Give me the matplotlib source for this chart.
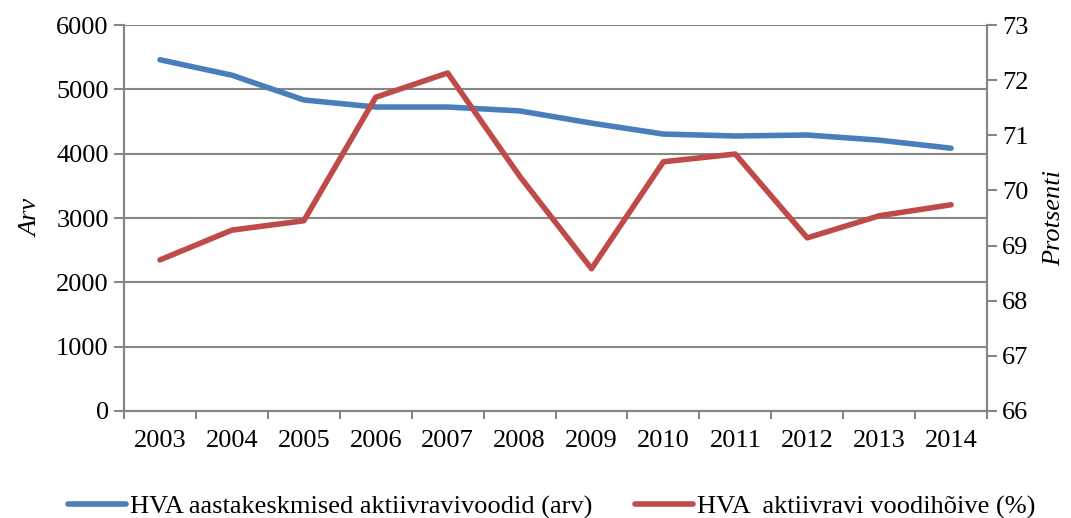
import numpy as np
import matplotlib.pyplot as plt

plt.rcParams['font.family'] = ['Liberation Serif', 'DejaVu Serif']

years = ['2003', '2004', '2005', '2006', '2007', '2008',
         '2009', '2010', '2011', '2012', '2013', '2014']
beds = [5460, 5220, 4835, 4725, 4725, 4665, 4475, 4305, 4275, 4290, 4210, 4085]
occupancy = [68.74, 69.28, 69.45, 71.69, 72.13, 70.26,
             68.58, 70.52, 70.66, 69.14, 69.54, 69.74]

blue = '#4a7ebb'
red = '#be4b48'
grey = '#868686'

fig = plt.figure(figsize=(10.71, 5.18), dpi=100)
ax = fig.add_axes([0.1158, 0.2066, 0.8058, 0.7451])
ax2 = ax.twinx()

x = np.arange(len(years))
l1, = ax.plot(x, beds, color=blue, lw=4, solid_capstyle='round',
              label='HVA aastakeskmised aktiivravivoodid (arv)')
l2, = ax2.plot(x, occupancy, color=red, lw=4, solid_capstyle='round',
               label='HVA  aktiivravi voodihõive (%)')

ax.set_xlim(-0.5, len(years) - 0.5)
ax.set_ylim(0, 6000)
ax.set_yticks(np.arange(0, 6001, 1000))
ax2.set_ylim(66, 73)
ax2.set_yticks(np.arange(66, 74, 1))

ax.set_xticks(x)
ax.set_xticklabels(years)
ax.set_xticks(np.arange(-0.5, len(years), 1), minor=True)
ax.tick_params(axis='x', which='major', length=0, pad=14, labelsize=19)
ax.tick_params(axis='x', which='minor', length=6, color=grey, width=1.5)
ax.tick_params(axis='y', length=7, color=grey, width=1.5, labelsize=19, pad=4)
ax2.tick_params(axis='y', length=7, color=grey, width=1.5, labelsize=19, pad=4)

ax.yaxis.grid(True, color=grey, lw=1.5)
ax.set_axisbelow(True)
for a in (ax, ax2):
    a.spines['top'].set_visible(False)
    for s in ('left', 'right', 'bottom'):
        a.spines[s].set_color(grey)
        a.spines[s].set_linewidth(1.5)

ax.set_ylabel('Arv', fontsize=19, style='italic', labelpad=10)
ax2.set_ylabel('Protsenti', fontsize=19, style='italic', labelpad=10)

fig.legend(handles=[l1, l2], loc='lower center', bbox_to_anchor=(0.515, -0.048),
           ncol=2, frameon=False, fontsize=19, handlelength=2.2,
           handletextpad=0.15, columnspacing=1.6)

fig.savefig('out.png', dpi=100)
